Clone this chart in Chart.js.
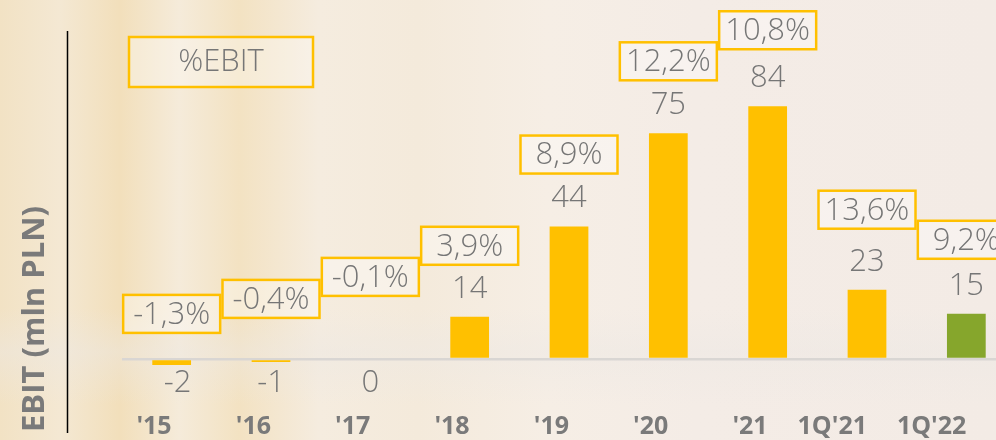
<!DOCTYPE html>
<html>
<head>
<meta charset="utf-8">
<script src="https://cdn.jsdelivr.net/npm/chart.js@4/dist/chart.umd.min.js"></script>
<style>
  html, body { margin: 0; padding: 0; overflow: hidden; }
  body {
    width: 996px; height: 440px;
    background:
      linear-gradient(180deg, rgba(255,255,255,0) 0%, rgba(255,255,255,0) 70%, rgba(236,232,228,0.45) 80%, rgba(255,255,255,0) 92%),
      linear-gradient(90deg, #f2e2c4 0%, #f4e8d3 6%, #f2dfbb 12%, #f5ebda 18%, #f3e2c2 24%, #f5ecdf 32%, #f4eadb 42%, #f6eee5 55%, #f4ece6 70%, #f3ebe5 100%);
  }
  #wrap { position: relative; width: 1016px; height: 440px; }
</style>
</head>
<body>
<div id="wrap"><canvas id="ebit" width="1016" height="440"></canvas></div>
<script>
const categories = [`'15`, `'16`, `'17`, `'18`, `'19`, `'20`, `'21`, `1Q'21`, `1Q'22`];
const ebit = [-2, -1, 0, 14, 44, 75, 84, 23, 15];
const ebitMargin = [-1.3, -0.4, -0.1, 3.9, 8.9, 12.2, 10.8, 13.6, 9.2];

const yellow = '#FFC000';
const green = '#86A62C';
const grey = '#767676';
const font = "'Open Sans', 'DejaVu Sans', sans-serif";

// where each % box sits, relative to the value label (px)
const boxShift = [-69, -84, -106, -43, -44, -44, -48, -52, -46];

const labelsPlugin = {
  id: 'labels',
  afterDatasetsDraw(chart) {
    const ctx = chart.ctx;
    const y = chart.scales.y;
    const meta = chart.getDatasetMeta(0);
    const zero = y.getPixelForValue(0);

    ctx.save();
    ctx.textAlign = 'center';
    ctx.textBaseline = 'middle';
    meta.data.forEach((bar, i) => {
      const v = ebit[i];
      const ly = v > 0 ? y.getPixelForValue(v) - 28 : zero + 24;
      ctx.fillStyle = grey;
      ctx.font = `300 31px ${font}`;
      ctx.fillText(String(v), bar.x + (v < -1 ? 6 : 0), ly);

      const by = ly + boxShift[i];
      const w = 97, h = 38;
      ctx.fillStyle = 'rgba(255,255,255,0.35)';
      ctx.fillRect(bar.x - w / 2, by - h / 2, w, h);
      ctx.strokeStyle = yellow;
      ctx.lineWidth = 2.5;
      ctx.strokeRect(bar.x - w / 2, by - h / 2, w, h);
      ctx.fillStyle = grey;
      ctx.fillText(ebitMargin[i].toFixed(1).replace('.', ',') + '%', bar.x, by + 1);
    });

    // legend box
    ctx.fillStyle = 'rgba(255,255,255,0.3)';
    ctx.fillRect(129, 37, 184, 50);
    ctx.strokeStyle = yellow;
    ctx.lineWidth = 2.5;
    ctx.strokeRect(129, 37, 184, 50);
    ctx.fillStyle = grey;
    ctx.font = `300 31px ${font}`;
    ctx.fillText('%EBIT', 221, 62);

    // axis title + black rule
    ctx.strokeStyle = '#000';
    ctx.lineWidth = 1.5;
    ctx.beginPath();
    ctx.moveTo(67.5, 31);
    ctx.lineTo(67.5, 433);
    ctx.stroke();

    ctx.translate(44, 432);
    ctx.rotate(-Math.PI / 2);
    ctx.textAlign = 'left';
    ctx.textBaseline = 'alphabetic';
    ctx.fillStyle = '#7a7a7a';
    ctx.font = `bold 31px ${font}`;
    ctx.fillText('EBIT (mln PLN)', 0, 0);
    ctx.restore();
  }
};

new Chart(document.getElementById('ebit'), {
  type: 'bar',
  data: {
    labels: categories,
    datasets: [{
      data: ebit,
      backgroundColor: ebit.map((v, i) => i === ebit.length - 1 ? green : yellow),
      barPercentage: 0.39,
      categoryPercentage: 1
    }]
  },
  options: {
    responsive: false,
    animation: false,
    layout: { padding: { left: 122, top: 10, right: 0, bottom: 0 } },
    plugins: { legend: { display: false }, tooltip: { enabled: false } },
    scales: {
      x: {
        afterFit: s => { s.height = 39; },
        grid: { display: false, drawTicks: false },
        border: { display: false },
        ticks: { color: '#7a7a7a', padding: 11, align: 'end', font: { family: font, size: 25, weight: 'bold' } }
      },
      y: {
        min: -14,
        max: 116,
        afterBuildTicks: s => { s.ticks = [{ value: 0 }]; },
        ticks: { display: false },
        border: { display: false },
        grid: { drawTicks: false, color: '#d9d6d3', lineWidth: 2.5 }
      }
    }
  },
  plugins: [labelsPlugin]
});
</script>
</body>
</html>
